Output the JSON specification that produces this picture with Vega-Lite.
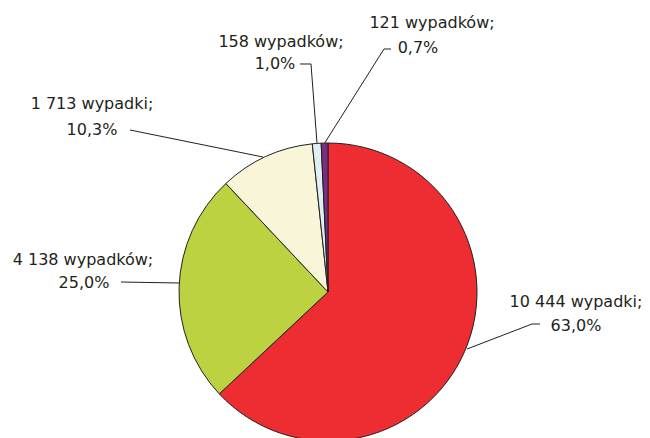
{
  "$schema": "https://vega.github.io/schema/vega-lite/v6.json",
  "width": 656,
  "height": 584,
  "padding": 0,
  "autosize": {"type": "none"},
  "background": "white",
  "config": {"view": {"stroke": null}},
  "datasets": {
    "slices": [
      {"kategoria": "A", "wypadki": 10444, "kolejnosc": 1},
      {"kategoria": "B", "wypadki": 4138, "kolejnosc": 2},
      {"kategoria": "C", "wypadki": 1713, "kolejnosc": 3},
      {"kategoria": "D", "wypadki": 158, "kolejnosc": 4},
      {"kategoria": "E", "wypadki": 121, "kolejnosc": 5}
    ],
    "labels": [
      {"t": "121 wypadków;", "ux": 0.698, "uy": 1.8054},
      {"t": "0,7%", "ux": 0.604, "uy": 1.6376},
      {"t": "158 wypadków;", "ux": -0.3154, "uy": 1.6779},
      {"t": "1,0%", "ux": -0.3557, "uy": 1.5302},
      {"t": "1 713 wypadki;", "ux": -1.5839, "uy": 1.2617},
      {"t": "10,3%", "ux": -1.5839, "uy": 1.0872},
      {"t": "4 138 wypadków;", "ux": -1.6443, "uy": 0.2148},
      {"t": "25,0%", "ux": -1.6376, "uy": 0.0604},
      {"t": "10 444 wypadki;", "ux": 1.6644, "uy": -0.0671},
      {"t": "63,0%", "ux": 1.6644, "uy": -0.2282}
    ],
    "leaders": [
      {"k": "E", "i": 1, "ux": -0.022, "uy": 1.0},
      {"k": "E", "i": 2, "ux": 0.3758, "uy": 1.6309},
      {"k": "E", "i": 3, "ux": 0.4228, "uy": 1.6309},
      {"k": "D", "i": 1, "ux": -0.0738, "uy": 1.0},
      {"k": "D", "i": 2, "ux": -0.1141, "uy": 1.5302},
      {"k": "D", "i": 3, "ux": -0.1879, "uy": 1.5302},
      {"k": "C", "i": 1, "ux": -0.4362, "uy": 0.906},
      {"k": "C", "i": 2, "ux": -1.3289, "uy": 1.0872},
      {"k": "B", "i": 1, "ux": -1.0, "uy": 0.0604},
      {"k": "B", "i": 2, "ux": -1.3893, "uy": 0.0671},
      {"k": "A", "i": 1, "ux": 0.9329, "uy": -0.3826},
      {"k": "A", "i": 2, "ux": 1.3691, "uy": -0.2148},
      {"k": "A", "i": 3, "ux": 1.4228, "uy": -0.2148}
    ]
  },
  "layer": [
    {
      "data": {"name": "slices"},
      "mark": {"type": "arc", "outerRadius": 149, "stroke": "#231f20", "strokeWidth": 1},
      "encoding": {
        "theta": {"field": "wypadki", "type": "quantitative", "stack": true},
        "order": {"field": "kolejnosc", "type": "quantitative"},
        "color": {
          "field": "kategoria",
          "type": "nominal",
          "scale": {"domain": ["A", "B", "C", "D", "E"], "range": ["#ee2d32", "#bcd240", "#f9f5d9", "#ddf0f2", "#7b2c83"]},
          "legend": null
        }
      }
    },
    {
      "data": {"name": "leaders"},
      "mark": {"type": "line", "color": "#231f20", "strokeWidth": 1},
      "encoding": {
        "x": {"field": "ux", "type": "quantitative", "scale": {"domain": [-2.2013, 2.2013], "nice": false, "zero": false}, "axis": null},
        "y": {"field": "uy", "type": "quantitative", "scale": {"domain": [-1.9597, 1.9597], "nice": false, "zero": false}, "axis": null},
        "detail": {"field": "k", "type": "nominal"},
        "order": {"field": "i", "type": "quantitative"}
      }
    },
    {
      "data": {"name": "labels"},
      "mark": {"type": "text", "font": "DejaVu Sans", "fontSize": 16, "color": "#231f20", "align": "center", "baseline": "middle"},
      "encoding": {
        "x": {"field": "ux", "type": "quantitative"},
        "y": {"field": "uy", "type": "quantitative"},
        "text": {"field": "t", "type": "nominal"}
      }
    }
  ]
}
